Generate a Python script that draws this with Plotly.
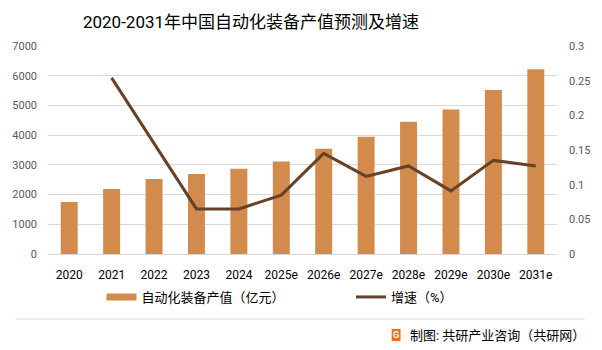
import plotly.graph_objects as go

years = ["2020", "2021", "2022", "2023", "2024", "2025e", "2026e", "2027e",
         "2028e", "2029e", "2030e", "2031e"]
output_value = [1750, 2190, 2520, 2690, 2870, 3110, 3545, 3950, 4450, 4860, 5520, 6220]
growth_rate = [None, 0.254, 0.160, 0.065, 0.065, 0.085, 0.145, 0.112, 0.127, 0.091, 0.135, 0.127]

bar_name = "自动化装备产值（亿元）"
line_name = "增速（%）"
title_text = "2020-2031年中国自动化装备产值预测及增速"
source_text = "制图: 共研产业咨询（共研网）"

FONT = "Roboto, 'Noto Sans CJK SC', sans-serif"
BAR_COLOR = "#D38B4D"
LINE_COLOR = "#654229"
GRID = "#d9d9d9"

L, R, T, B = 48, 40, 46, 96
W, H = 602, 350
pw, ph = W - L - R, H - T - B


def px(x):
    return (x - L) / pw


def py(y):
    return (H - B - y) / ph


fig = go.Figure()
fig.add_trace(go.Bar(
    x=years, y=output_value, name=bar_name, marker_color=BAR_COLOR,
    marker_line_width=0, yaxis="y", width=0.4, showlegend=False,
))
# legend swatch for the bars (wide rectangle, as in the reference)
fig.add_trace(go.Scatter(
    x=[None], y=[None], name=bar_name, mode="lines",
    line=dict(color=BAR_COLOR, width=7), legend="legend",
))
fig.add_trace(go.Scatter(
    x=years, y=growth_rate, name=line_name, mode="lines",
    line=dict(color=LINE_COLOR, width=3), yaxis="y2", connectgaps=False,
    legend="legend2",
))

legend_common = dict(orientation="h", xanchor="left", yanchor="middle",
                     font=dict(family=FONT, size=13, color="#000000"),
                     bgcolor="rgba(0,0,0,0)", itemwidth=30)

fig.update_layout(
    width=W, height=H,
    margin=dict(l=L, r=R, t=T, b=B, pad=0),
    paper_bgcolor="white", plot_bgcolor="white",
    font=dict(family=FONT, size=12, color="#595959"),
    title=dict(text=title_text, x=251 / W, xanchor="center", y=1 - 22 / H, yanchor="middle",
               xref="container", yref="container",
               font=dict(family=FONT, size=17, color="#000000")),
    showlegend=True,
    legend=dict(x=px(102), y=py(297), **legend_common),
    legend2=dict(x=px(354), y=py(297), **legend_common),
    xaxis=dict(showgrid=False, showline=True, linecolor=GRID, linewidth=1,
               ticks="", tickfont=dict(size=12, color="#000000"),
               ticklabelstandoff=10),
    yaxis=dict(range=[0, 7000], dtick=1000, showgrid=True, gridcolor=GRID,
               gridwidth=1, zeroline=False, showline=False, ticks="",
               tickfont=dict(size=11, color="#595959"), ticklabelstandoff=10),
    yaxis2=dict(range=[0, 0.3], dtick=0.05, overlaying="y", side="right",
                showgrid=False, zeroline=False, showline=False, ticks="",
                tickfont=dict(size=11, color="#595959"), ticklabelstandoff=11,
                tickformat="~g"),
)

fig.add_shape(type="line", xref="paper", yref="paper",
              x0=px(15), x1=px(590), y0=py(319), y1=py(319),
              line=dict(color=GRID, width=1))

# logo
fig.add_shape(type="rect", xref="paper", yref="paper",
              x0=px(395), x1=px(404), y0=py(341), y1=py(329),
              fillcolor="#F26B21", line=dict(width=0))
fig.add_annotation(text="<b>G</b>", xref="paper", yref="paper",
                   x=px(399.5), y=py(335), showarrow=False,
                   font=dict(family=FONT, size=9, color="white"),
                   xanchor="center", yanchor="middle")
fig.add_annotation(text=source_text, xref="paper", yref="paper",
                   x=px(592), y=py(335), showarrow=False,
                   xanchor="right", yanchor="middle",
                   font=dict(family=FONT, size=13, color="#000000"))

fig.write_html("out.html")
